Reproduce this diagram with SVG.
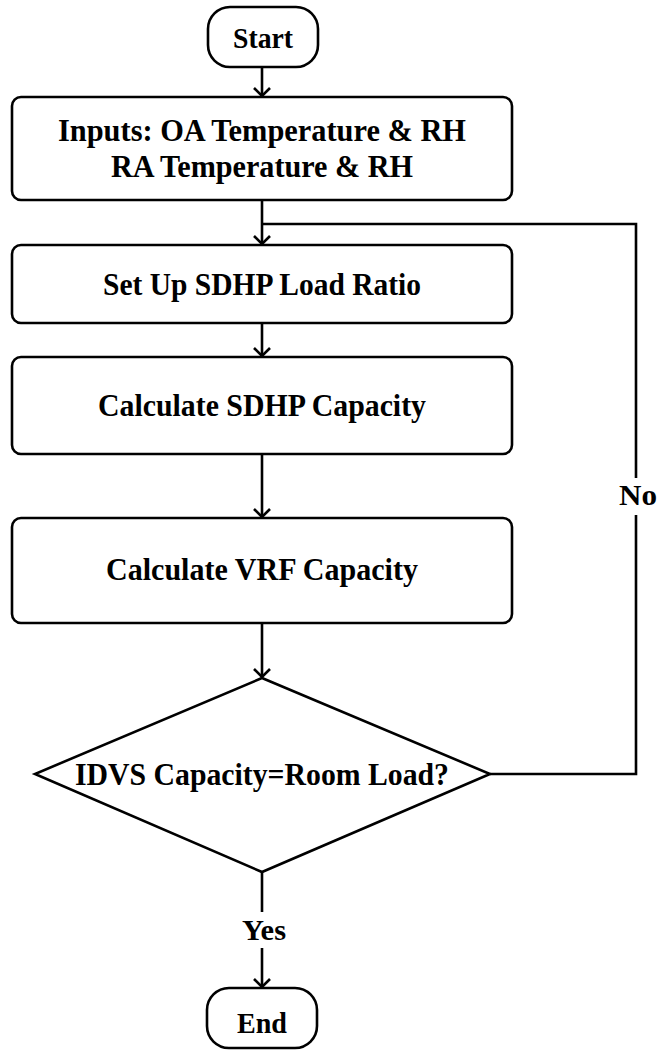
<svg xmlns="http://www.w3.org/2000/svg" width="657" height="1055" viewBox="0 0 657 1055">
  <style>
    .shape { fill: #ffffff; stroke: #000000; stroke-width: 2.6; }
    .wire { fill: none; stroke: #000000; stroke-width: 2.6; stroke-linejoin: miter; }
    .lbl { font-family: "Liberation Serif", "Times New Roman", serif; font-weight: bold; font-size: 31px; fill: #000000; text-anchor: middle; }
    .small { font-size: 30px; }
  </style>
  <defs>
    <marker id="arrow" markerUnits="userSpaceOnUse" markerWidth="24" markerHeight="24" viewBox="-12 -12 24 24" refX="0" refY="0" orient="auto">
      <path d="M-8,-8 L0,0 L-8,8" fill="none" stroke="#000000" stroke-width="2.6"/>
    </marker>
  </defs>

  <!-- connectors -->
  <g id="connectors">
    <path class="wire" d="M262,67 V96" marker-end="url(#arrow)"/>
    <path class="wire" d="M262,200 V244" marker-end="url(#arrow)"/>
    <path class="wire" d="M262,323 V356" marker-end="url(#arrow)"/>
    <path class="wire" d="M262,454 V517" marker-end="url(#arrow)"/>
    <path class="wire" d="M262,623 V677" marker-end="url(#arrow)"/>
    <!-- "No" branch loops back above the load-ratio step -->
    <path class="wire" d="M490,774 H636 V515 M636,478 V224 H262"/>
    <!-- "Yes" branch to the end -->
    <path class="wire" d="M262,872 V912"/>
    <path class="wire" d="M262,948 V987" marker-end="url(#arrow)"/>
    <text class="lbl small" x="638" y="505" textLength="38" lengthAdjust="spacingAndGlyphs">No</text>
    <text class="lbl small" x="264" y="940" textLength="44" lengthAdjust="spacingAndGlyphs">Yes</text>
  </g>

  <g id="start">
    <rect class="shape" x="208" y="7" width="110" height="60" rx="22" ry="22"/>
    <text class="lbl small" x="263" y="48" textLength="60" lengthAdjust="spacingAndGlyphs">Start</text>
  </g>

  <g id="inputs">
    <rect class="shape" x="12" y="97" width="500" height="103" rx="9" ry="9"/>
    <text class="lbl" x="262" y="141" textLength="408" lengthAdjust="spacingAndGlyphs">Inputs: OA Temperature &amp; RH</text>
    <text class="lbl" x="262" y="177" textLength="302" lengthAdjust="spacingAndGlyphs">RA Temperature &amp; RH</text>
  </g>

  <g id="load-ratio">
    <rect class="shape" x="12" y="245" width="500" height="78" rx="9" ry="9"/>
    <text class="lbl" x="262" y="295" textLength="318" lengthAdjust="spacingAndGlyphs">Set Up SDHP Load Ratio</text>
  </g>

  <g id="sdhp-capacity">
    <rect class="shape" x="12" y="357" width="500" height="97" rx="9" ry="9"/>
    <text class="lbl" x="262" y="416" textLength="328" lengthAdjust="spacingAndGlyphs">Calculate SDHP Capacity</text>
  </g>

  <g id="vrf-capacity">
    <rect class="shape" x="12" y="518" width="500" height="105" rx="9" ry="9"/>
    <text class="lbl" x="262" y="580" textLength="312" lengthAdjust="spacingAndGlyphs">Calculate VRF Capacity</text>
  </g>

  <g id="check-load">
    <polygon class="shape" points="262,678 490,774 262,872 35,774"/>
    <text class="lbl" x="262" y="785" textLength="374" lengthAdjust="spacingAndGlyphs">IDVS Capacity=Room Load?</text>
  </g>

  <g id="end">
    <rect class="shape" x="207" y="988" width="110" height="60" rx="22" ry="22"/>
    <text class="lbl small" x="262" y="1033" textLength="50" lengthAdjust="spacingAndGlyphs">End</text>
  </g>
</svg>
